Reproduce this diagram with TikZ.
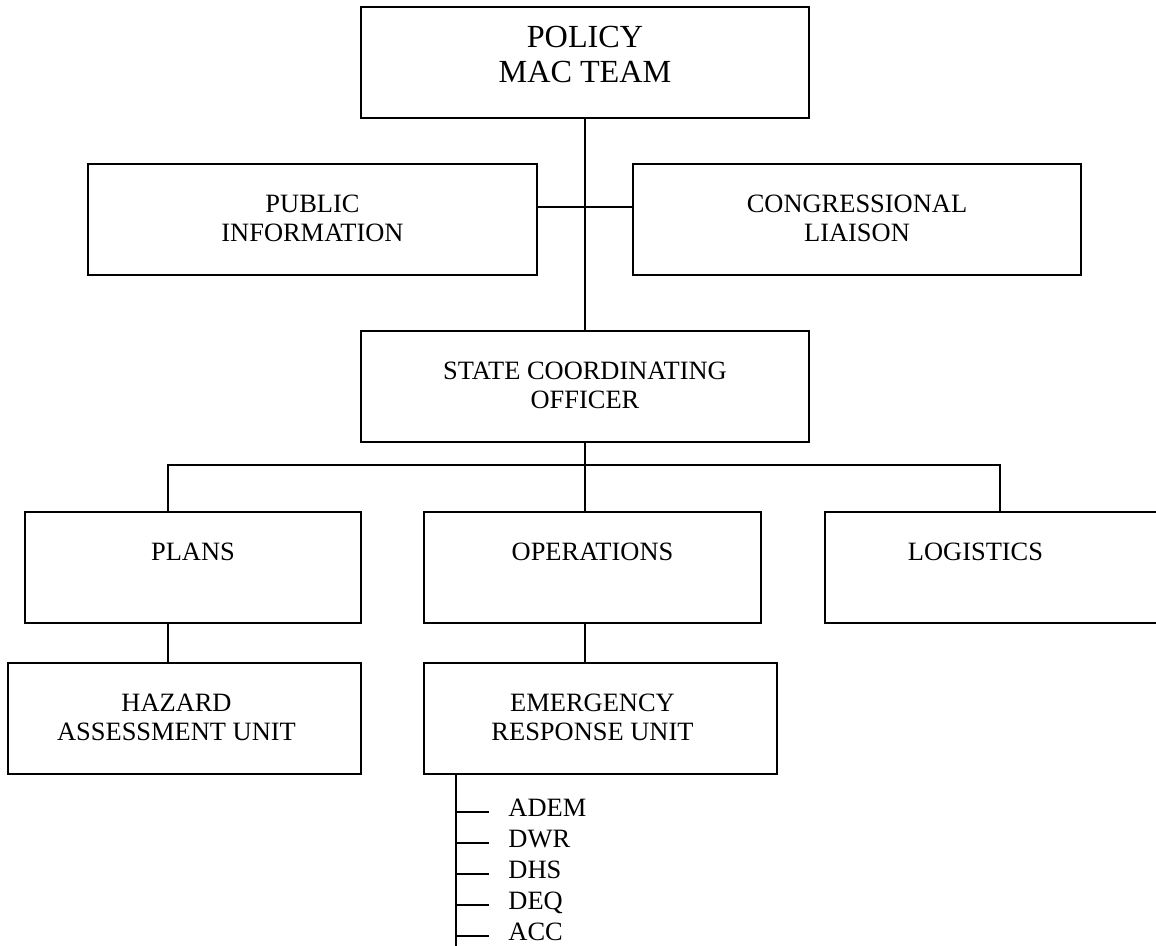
\documentclass[tikz,border=0pt]{standalone}
\usepackage{fontspec}
\setmainfont{Liberation Serif}
\usetikzlibrary{positioning}

\newcommand{\pu}{0.45pt}

\tikzset{
  box/.style={draw, line width=0.9pt, minimum height=111*\pu, inner sep=0pt},
  txt/.style={align=center, inner sep=0pt, font=\fontsize{11.9}{13.05}\selectfont},
  unit/.style={inner sep=0pt, anchor=base west, font=\fontsize{11.9}{13.05}\selectfont},
  link/.style={line width=0.6pt},
}

\begin{document}
\begin{tikzpicture}[x=\pu, y=-\pu]
%Org chart
                \useasboundingbox (0,0) rectangle (1156,945);
                \node [box, minimum width=448*\pu] (policy) at (585,62.5) {};
                \node [box, minimum width=449*\pu] (pub) at (312.5,219) {};
                \node [box, minimum width=448*\pu] (cong) at (857,219) {};
                \node [box, minimum width=448*\pu] (sco) at (585,386.5) {};
                \node [box, minimum width=336*\pu] (plans) at (193,567.5) {};
                \node [box, minimum width=337*\pu] (ops) at (592.5,567.5) {};
                \node [box, minimum width=337*\pu] (log) at (993.5,567.5) {};
                \node [box, minimum width=353*\pu] (haz) at (184.5,718.5) {};
                \node [box, minimum width=353*\pu] (eru) at (600.5,718.5) {};
                \node [txt, font=\fontsize{14.5}{15.75}\selectfont, below=9pt of policy.north] (policy-t) {POLICY\\MAC TEAM};
                \node [txt, below=14.4pt of pub.north] (pub-t) {PUBLIC\\INFORMATION};
                \node [txt, below=14.4pt of cong.north] (cong-t) {CONGRESSIONAL\\LIAISON};
                \node [txt, below=14.4pt of sco.north] (sco-t) {STATE COORDINATING\\OFFICER};
                \node [txt, below=14.4pt of plans.north] (plans-t) {PLANS};
                \node [txt, below=14.4pt of ops.north] (ops-t) {OPERATIONS};
                \node [txt, below=14.4pt of log.north, xshift=-8.1pt] (log-t) {LOGISTICS};
                \node [txt, below=14.4pt of haz.north, xshift=-3.6pt] (haz-t) {HAZARD\\ASSESSMENT UNIT};
                \node [txt, below=14.4pt of eru.north, xshift=-3.6pt] (eru-t) {EMERGENCY\\RESPONSE UNIT};
                \coordinate (mid) at (585,207);
                \coordinate (bus-l) at (168,465);
                \coordinate (bus-r) at (1000,465);
                \coordinate (tail) at (456,950);
                \draw [link] (policy.south) -- (sco.north);
                \draw [link] (pub.east |- mid) -- (cong.west |- mid);
                \draw [link] (sco.south) -- (sco.south |- ops.north);
                \draw [link] (bus-l |- plans.north) -- (bus-l) -- (bus-r) -- (bus-r |- log.north);
                \draw [link] (bus-l |- plans.south) -- (bus-l |- haz.north);
                \draw [link] (sco.south |- ops.south) -- (sco.south |- eru.north);
                \draw [link] (tail |- eru.south) -- (tail);
                \foreach \name [count=\i] in {ADEM,DWR,DHS,DEQ,ACC} {
                  \coordinate (tick\i) at (456,{812+31*(\i-1)});
                  \node [unit] (u\i) at ([shift={(52,4)}]tick\i) {\name};
                  \draw [link] (tick\i) -- ++(33,0);
                }
\end{tikzpicture}
\end{document}
